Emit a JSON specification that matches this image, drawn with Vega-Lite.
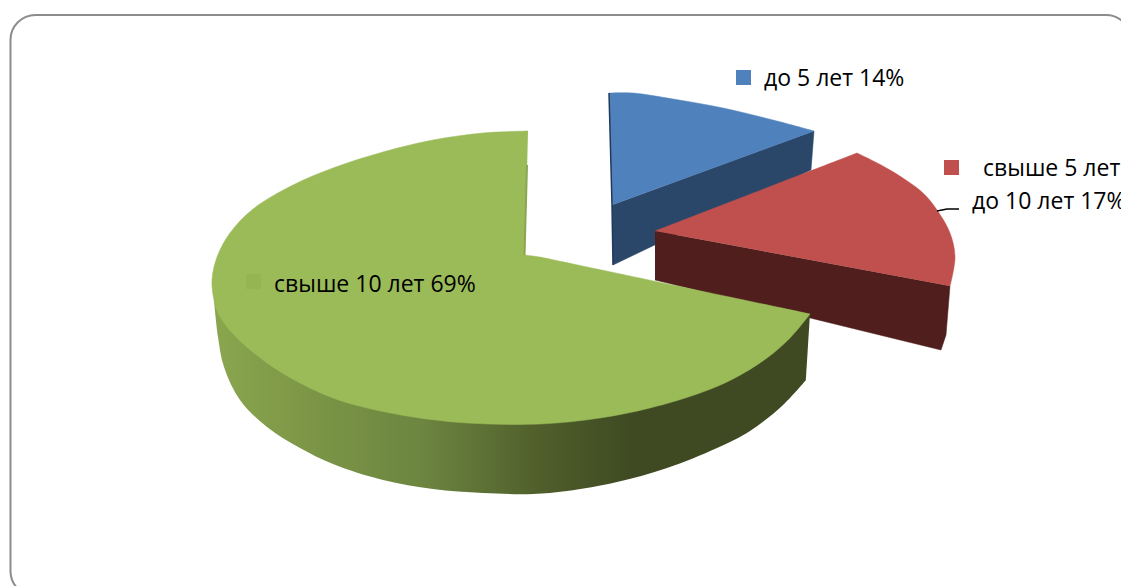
{"$schema":"https://vega.github.io/schema/vega-lite/v6.json","width":1121,"height":586,"padding":0,"autosize":"none","background":"white","view":{"stroke":null},
"datasets":{"outline":[
{"piece":"blueSide","n":1,"x":612,"y":205},{"piece":"blueSide","n":2,"x":814,"y":131},{"piece":"blueSide","n":3,"x":811,"y":170},{"piece":"blueSide","n":4,"x":613,"y":265},
{"piece":"blueTop","n":1,"x":609,"y":93},{"piece":"blueTop","n":2,"x":633,"y":93},{"piece":"blueTop","n":3,"x":673,"y":99},{"piece":"blueTop","n":4,"x":723,"y":108},{"piece":"blueTop","n":5,"x":773,"y":120},{"piece":"blueTop","n":6,"x":814,"y":131},{"piece":"blueTop","n":6.5,"x":814,"y":131},{"piece":"blueTop","n":7,"x":612,"y":205},{"piece":"blueTop","n":7.5,"x":612,"y":205},
{"piece":"redSide","n":1,"x":655,"y":231},{"piece":"redSide","n":2,"x":950,"y":286},{"piece":"redSide","n":3,"x":946,"y":335},{"piece":"redSide","n":4,"x":941,"y":350},{"piece":"redSide","n":5,"x":655,"y":280},
{"piece":"redTop","n":1,"x":655,"y":231},{"piece":"redTop","n":1.5,"x":655,"y":231},{"piece":"redTop","n":2,"x":857,"y":153},{"piece":"redTop","n":2.5,"x":857,"y":153},{"piece":"redTop","n":3,"x":890,"y":170},{"piece":"redTop","n":4,"x":923,"y":193},{"piece":"redTop","n":5,"x":937,"y":210},{"piece":"redTop","n":6,"x":950,"y":233},{"piece":"redTop","n":7,"x":955,"y":257},{"piece":"redTop","n":8,"x":950,"y":286},
{"piece":"greenSide","n":1,"x":214,"y":300},{"piece":"greenSide","n":2,"x":218,"y":337},{"piece":"greenSide","n":3,"x":224,"y":367},{"piece":"greenSide","n":4,"x":240,"y":400},{"piece":"greenSide","n":5,"x":267,"y":427},{"piece":"greenSide","n":6,"x":300,"y":448},{"piece":"greenSide","n":7,"x":333,"y":464},{"piece":"greenSide","n":8,"x":383,"y":480},{"piece":"greenSide","n":9,"x":433,"y":489},{"piece":"greenSide","n":10,"x":483,"y":493},{"piece":"greenSide","n":11,"x":533,"y":494},{"piece":"greenSide","n":12,"x":567,"y":491},{"piece":"greenSide","n":13,"x":617,"y":482},{"piece":"greenSide","n":14,"x":667,"y":468},{"piece":"greenSide","n":15,"x":717,"y":448},{"piece":"greenSide","n":16,"x":750,"y":431},{"piece":"greenSide","n":17,"x":783,"y":405},{"piece":"greenSide","n":18,"x":806,"y":380},{"piece":"greenSide","n":18.5,"x":806,"y":380},{"piece":"greenSide","n":20,"x":810,"y":314},{"piece":"greenSide","n":20.5,"x":810,"y":314},{"piece":"greenSide","n":21,"x":500,"y":300},
{"piece":"greenTop","n":1,"x":528,"y":131},{"piece":"greenTop","n":2,"x":483,"y":133},{"piece":"greenTop","n":3,"x":433,"y":140},{"piece":"greenTop","n":4,"x":383,"y":152},{"piece":"greenTop","n":5,"x":333,"y":168},{"piece":"greenTop","n":6,"x":293,"y":185},{"piece":"greenTop","n":7,"x":253,"y":209},{"piece":"greenTop","n":8,"x":230,"y":233},{"piece":"greenTop","n":9,"x":217,"y":257},{"piece":"greenTop","n":10,"x":212,"y":280},{"piece":"greenTop","n":11,"x":214,"y":300},{"piece":"greenTop","n":12,"x":219,"y":315},{"piece":"greenTop","n":13,"x":235,"y":336},{"piece":"greenTop","n":14,"x":267,"y":363},{"piece":"greenTop","n":15,"x":300,"y":383},{"piece":"greenTop","n":16,"x":333,"y":398},{"piece":"greenTop","n":17,"x":367,"y":408},{"piece":"greenTop","n":18,"x":413,"y":417},{"piece":"greenTop","n":19,"x":467,"y":423},{"piece":"greenTop","n":20,"x":540,"y":424},{"piece":"greenTop","n":21,"x":600,"y":418},{"piece":"greenTop","n":22,"x":650,"y":408},{"piece":"greenTop","n":23,"x":700,"y":393},{"piece":"greenTop","n":24,"x":733,"y":379},{"piece":"greenTop","n":25,"x":767,"y":358},{"piece":"greenTop","n":26,"x":790,"y":338},{"piece":"greenTop","n":27,"x":810,"y":314},{"piece":"greenTop","n":27.5,"x":810,"y":314},{"piece":"greenTop","n":29,"x":540,"y":257},{"piece":"greenTop","n":29.5,"x":540,"y":257},{"piece":"greenTop","n":30,"x":525,"y":255},{"piece":"greenTop","n":30.5,"x":525,"y":255},
{"piece":"leader","n":1,"x":937,"y":211},{"piece":"leader","n":2,"x":947,"y":209},{"piece":"leader","n":3,"x":959,"y":209},
{"piece":"blueEdge","n":1,"x":609,"y":93},{"piece":"blueEdge","n":2,"x":612,"y":205},{"piece":"blueEdge","n":3,"x":613,"y":265},
{"piece":"greenEdge","n":1,"x":527,"y":165},{"piece":"greenEdge","n":2,"x":524.5,"y":255}
],
"keys":[{"label":"до 5 лет 14%","x":743.5,"y":77.5,"c":"#4f81bd"},{"label":"свыше 5 лет до 10 лет 17%","x":951.5,"y":167.5,"c":"#c0504d"},{"label":"свыше 10 лет 69%","x":253.5,"y":281.5,"c":"#95b553"}],
"labels":[{"t":"до 5 лет 14%","x":764,"y":86},{"t":"свыше 5 лет","x":983,"y":176},{"t":"до 10 лет 17%","x":972,"y":209},{"t":"свыше 10 лет 69%","x":274,"y":291.5}],
"frame":[{"x":10.5,"x2":1131,"y":15,"y2":596}]},
"encoding":{"x":{"field":"x","type":"quantitative","scale":{"domain":[0,1121],"nice":false,"zero":false},"axis":null},"y":{"field":"y","type":"quantitative","scale":{"domain":[586,0],"nice":false,"zero":false},"axis":null}},
"layer":[
{"data":{"name":"frame"},"mark":{"type":"rect","fill":"white","stroke":"#8c8c8c","strokeWidth":2,"cornerRadius":25},"encoding":{"x2":{"field":"x2"},"y2":{"field":"y2"}}},
{"data":{"name":"outline"},"transform":[{"filter":"datum.piece==='blueSide'"}],"mark":{"type":"line","fill":"#2a4669","stroke":"#2a4669","strokeWidth":0.5},"encoding":{"order":{"field":"n"}}},
{"data":{"name":"outline"},"transform":[{"filter":"datum.piece==='blueTop'"}],"mark":{"type":"line","interpolate":"catmull-rom","fill":"#4f81bd","stroke":"#4f81bd","strokeWidth":0.5},"encoding":{"order":{"field":"n"}}},
{"data":{"name":"outline"},"transform":[{"filter":"datum.piece==='blueEdge'"}],"mark":{"type":"line","stroke":"#22395a","strokeWidth":1.5},"encoding":{"order":{"field":"n"}}},
{"data":{"name":"outline"},"transform":[{"filter":"datum.piece==='redSide'"}],"mark":{"type":"line","fill":"#4f1e1d","stroke":"#4f1e1d","strokeWidth":0.5},"encoding":{"order":{"field":"n"}}},
{"data":{"name":"outline"},"transform":[{"filter":"datum.piece==='redTop'"}],"mark":{"type":"line","interpolate":"catmull-rom","fill":"#c0504d","stroke":"#c0504d","strokeWidth":0.5},"encoding":{"order":{"field":"n"}}},
{"data":{"name":"outline"},"transform":[{"filter":"datum.piece==='greenSide'"}],"mark":{"type":"line","interpolate":"catmull-rom","stroke":null,"fill":{"gradient":"linear","x1":0,"y1":0,"x2":1,"y2":0,"stops":[{"offset":0,"color":"#8aa64e"},{"offset":0.15,"color":"#7d9747"},{"offset":0.35,"color":"#6c8540"},{"offset":0.55,"color":"#4f5e2b"},{"offset":0.7,"color":"#3f4a22"},{"offset":1,"color":"#3f4a22"}]}},"encoding":{"order":{"field":"n"}}},
{"data":{"name":"outline"},"transform":[{"filter":"datum.piece==='greenTop'"}],"mark":{"type":"line","interpolate":"catmull-rom","fill":"#9bbb59","stroke":"#9bbb59","strokeWidth":0.5},"encoding":{"order":{"field":"n"}}},
{"data":{"name":"outline"},"transform":[{"filter":"datum.piece==='greenEdge'"}],"mark":{"type":"line","stroke":"#8aa650","strokeWidth":2},"encoding":{"order":{"field":"n"}}},
{"data":{"name":"outline"},"transform":[{"filter":"datum.piece==='leader'"}],"mark":{"type":"line","stroke":"black","strokeWidth":1.3},"encoding":{"order":{"field":"n"}}},
{"data":{"name":"keys"},"mark":{"type":"point","shape":"square","filled":true,"size":225,"opacity":1},"encoding":{"color":{"field":"c","type":"nominal","scale":null}}},
{"data":{"name":"labels"},"mark":{"type":"text","align":"left","baseline":"alphabetic","font":"Open Sans","fontSize":23,"color":"black"},"encoding":{"text":{"field":"t"}}}
]}
